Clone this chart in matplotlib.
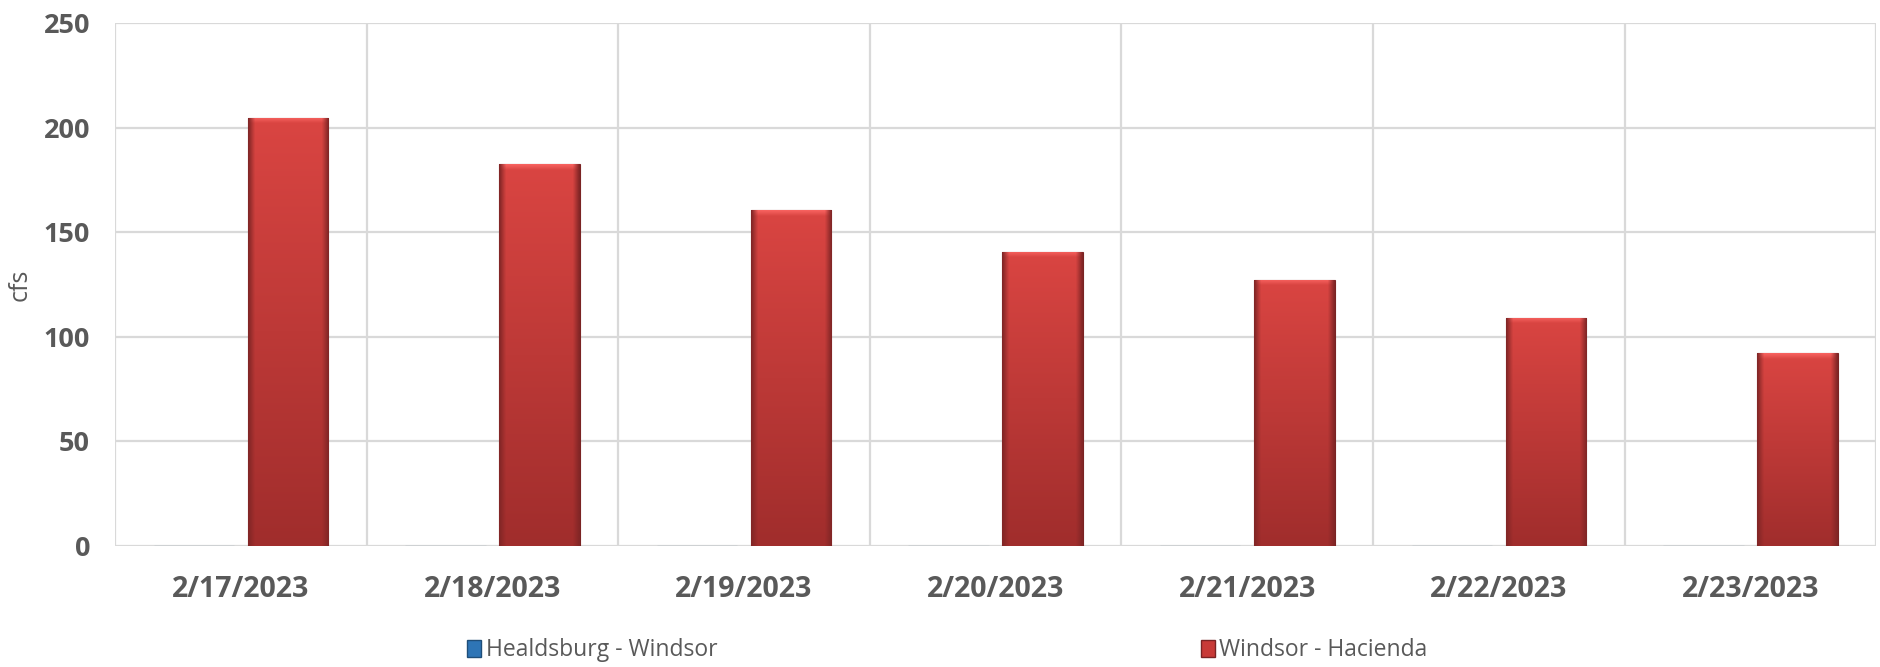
import numpy as np
import matplotlib.pyplot as plt

# data
dates = ["2/17/2023", "2/18/2023", "2/19/2023", "2/20/2023",
         "2/21/2023", "2/22/2023", "2/23/2023"]
healdsburg_windsor = [0, 0, 0, 0, 0, 0, 0]
windsor_hacienda = [204.7, 182.6, 160.6, 140.6, 127.3, 109.2, 92.2]

plt.rcParams['font.family'] = ['Open Sans', 'DejaVu Sans']

TEXT = "#595959"
GRID = "#D9D9D9"


def bevel_fill(ax, bars, top, bottom, edge):
    # fake the office-style bevel: vertical gradient + darker sides
    top = np.array(plt.matplotlib.colors.to_rgb(top))
    bottom = np.array(plt.matplotlib.colors.to_rgb(bottom))
    edge = np.array(plt.matplotlib.colors.to_rgb(edge))
    nx = 60
    u = np.linspace(0, 1, nx)
    side = np.clip(np.minimum(u, 1 - u) / 0.08, 0, 1)[None, :, None]
    for b in bars:
        h = b.get_height()
        if h <= 0:
            continue
        x0, w = b.get_x(), b.get_width()
        ny = int(h * 4)
        t = np.linspace(0, 1, ny)[:, None, None]
        im = np.repeat(top * (1 - t) + bottom * t, nx, axis=1)
        # thin light bevel at the top of the bar
        band = 12
        fade = np.linspace(1.0, 0.0, band)[:, None, None]
        im[:band] = np.clip(im[:band] + 0.12 * fade, 0, 1)
        im = im * side + edge * (1 - side)
        art = ax.imshow(im, extent=(x0, x0 + w, 0, h), aspect="auto",
                        origin="upper", zorder=3, interpolation="bilinear")
        art.set_clip_path(b)
        b.set_facecolor("none")


fig = plt.figure(figsize=(18.8, 6.67), dpi=100)
ax = fig.add_axes([0.0612, 0.1814, 0.9368, 0.7841])

x = np.arange(len(dates))
width = 0.32
off = 0.187
b1 = ax.bar(x - off, healdsburg_windsor, width, color="#2E75B6",
            edgecolor="#1F4E79", linewidth=0.8, zorder=3,
            label="Healdsburg - Windsor")
b2 = ax.bar(x + off, windsor_hacienda, width, color="#C83A37",
            edgecolor="#7A2323", linewidth=0.8, zorder=3,
            label="Windsor - Hacienda")
bevel_fill(ax, b2, "#DA4542", "#A02D2C", "#822626")

ax.set_xlim(-0.5, len(dates) - 0.5)
ax.set_ylim(0, 250)
ax.set_yticks(range(0, 251, 50))
ax.set_xticks(x)
ax.set_xticklabels(dates)
ax.set_xticks(np.arange(-0.5, len(dates), 1.0), minor=True)

for s in ax.spines.values():
    s.set_visible(False)
ax.grid(axis="y", color=GRID, linewidth=1.6, zorder=0)
ax.grid(axis="x", which="minor", color=GRID, linewidth=1.6, zorder=0)
ax.tick_params(which="both", length=0)
ax.tick_params(axis="x", which="major", pad=21)
ax.tick_params(axis="y", pad=18)
for lab in ax.get_xticklabels():
    lab.set_fontsize(20.5)
    lab.set_fontweight("bold")
    lab.set_color(TEXT)
for lab in ax.get_yticklabels():
    lab.set_fontsize(19.5)
    lab.set_fontweight("bold")
    lab.set_color(TEXT)

ax.set_ylabel("cfs", fontsize=18, color=TEXT, labelpad=8)

# legend handles: plain squares
h1 = plt.Rectangle((0, 0), 1, 1, facecolor="#2E75B6", edgecolor="#1F4E79")
h2 = plt.Rectangle((0, 0), 1, 1, facecolor="#C83A37", edgecolor="#7A2323")
leg = fig.legend([h1, h2], ["Healdsburg - Windsor", "Windsor - Hacienda"],
                 loc="center", bbox_to_anchor=(0.504, 0.025), ncol=2,
                 frameon=False, fontsize=16.5, handlelength=0.6,
                 handleheight=0.8, handletextpad=0.2, columnspacing=21.1)
for t in leg.get_texts():
    t.set_color(TEXT)

fig.savefig("out.png", dpi=100)
